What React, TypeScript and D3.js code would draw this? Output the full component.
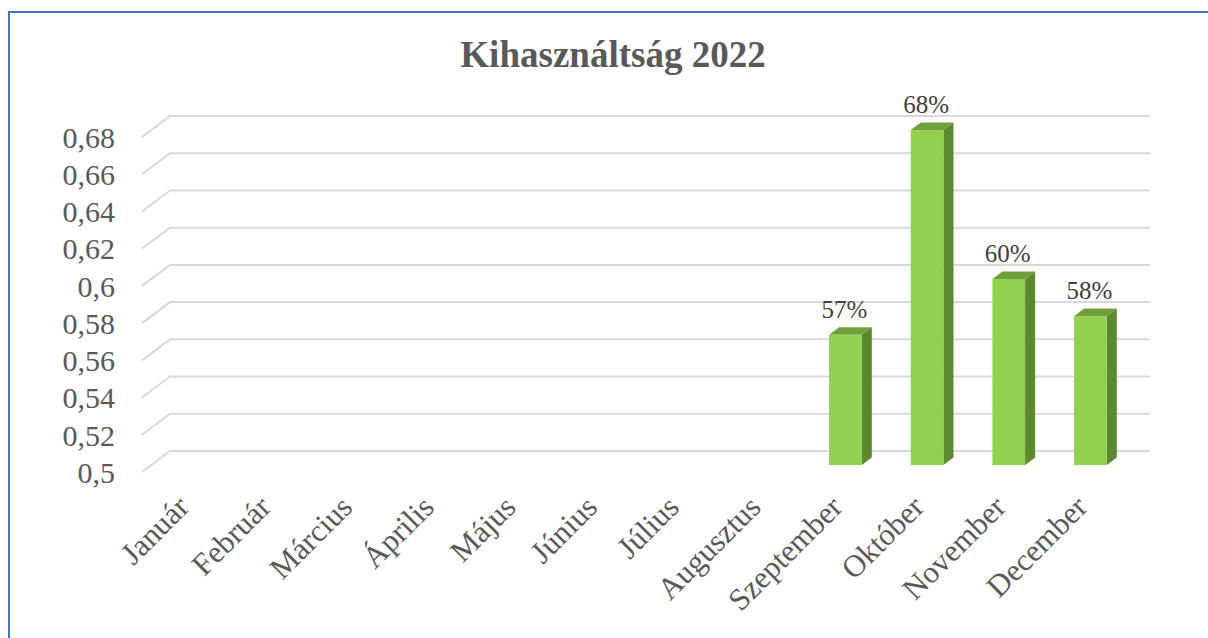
import React from "react";
import * as d3 from "d3";

const months = ["Január", "Február", "Március", "Április", "Május", "Június", "Július", "Augusztus", "Szeptember", "Október", "November", "December"];
const values: (number | null)[] = [null, null, null, null, null, null, null, null, 0.57, 0.68, 0.6, 0.58];
const yTicks = [0.5, 0.52, 0.54, 0.56, 0.58, 0.6, 0.62, 0.64, 0.66, 0.68];
const title = "Kihasználtság 2022";

const W = 1208;
const H = 638;
const DX = 28; // depth offset of back wall
const DY = -21;
const F1 = 0.33; // bar front depth fraction
const F2 = 0.69; // bar back depth fraction

const fmtTick = (v: number) => d3.format("~g")(v).replace(".", ",");
const fmtPct = d3.format(".0%");

export default function App() {
  const y = d3.scaleLinear().domain([0.5, 0.68]).range([472, 137]);
  const x = d3.scaleBand<string>().domain(months).range([142, 1122]).paddingInner(0.6).paddingOuter(0.3);
  const bw = x.bandwidth();
  const font = "Liberation Serif, Times New Roman, serif";

  return (
    <svg width={W} height={H} style={{ position: "absolute", left: 0, top: 0 }} fontFamily={font}>
      <rect x={0} y={0} width={W} height={H} fill="#ffffff" />
      <rect x={9} y={12} width={W + 20} height={H + 20} fill="none" stroke="#4472C4" strokeWidth={2} />
      <text x={613} y={67} textAnchor="middle" fontSize={37} fontWeight="bold" fill="#595959" fontFamily={font}>{title}</text>

      {yTicks.map((t) => {
        const yf = y(t);
        return (
          <g key={t}>
            <polyline
              points={`142,${yf} ${142 + DX},${yf + DY} ${1122 + DX},${yf + DY}`}
              fill="none"
              stroke="#D9D9D9"
              strokeWidth={2}
            />
            <text x={115} y={yf} dy="0.36em" textAnchor="end" fontSize={30} fill="#595959" fontFamily={font}>{fmtTick(t)}</text>
          </g>
        );
      })}

      {months.map((m, i) => {
        const v = values[i];
        const cx = (x(m) as number) + bw / 2;
        const labelX = cx + 8;
        const labelY = 509;
        const els: React.ReactNode[] = [];
        if (v !== null) {
          const fx = (x(m) as number) + DX * F1;
          const fy0 = y(0.5) + DY * F1;
          const fyT = y(v) + DY * F1;
          const sdx = DX * (F2 - F1);
          const sdy = DY * (F2 - F1);
          els.push(
            <g key="bar">
              <polygon points={`${fx + bw},${fyT} ${fx + bw + sdx},${fyT + sdy} ${fx + bw + sdx},${fy0 + sdy} ${fx + bw},${fy0}`} fill="#5E8A2F" />
              <polygon points={`${fx},${fyT} ${fx + sdx},${fyT + sdy} ${fx + bw + sdx},${fyT + sdy} ${fx + bw},${fyT}`} fill="#6FA03A" />
              <rect x={fx} y={fyT} width={bw} height={fy0 - fyT} fill="#92D050" />
              <text x={fx + bw / 2 - 1} y={fyT - 17} textAnchor="middle" fontSize={25} fill="#404040" fontFamily={font}>{fmtPct(v)}</text>
            </g>
          );
        }
        return (
          <g key={m}>
            {els}
            <text x={labelX} y={labelY} textAnchor="end" fontSize={31} fill="#595959" fontFamily={font} transform={`rotate(-45 ${labelX} ${labelY})`}>{m}</text>
          </g>
        );
      })}
    </svg>
  );
}
